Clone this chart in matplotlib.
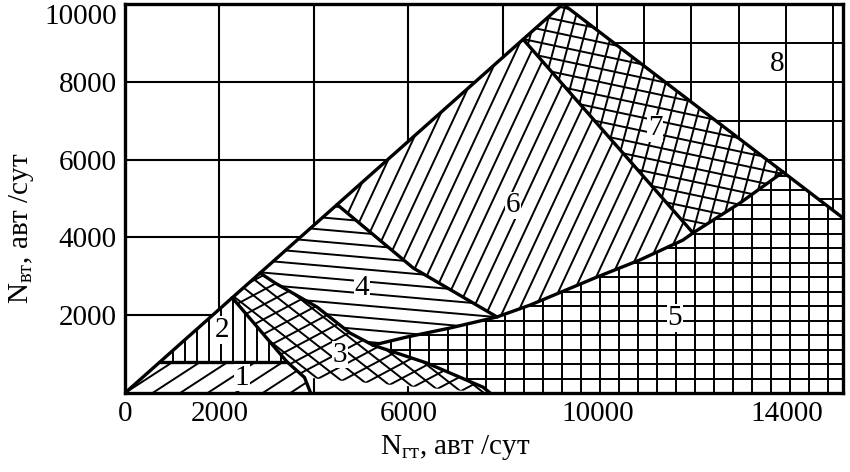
import numpy as np
import matplotlib
matplotlib.use('Agg')
import matplotlib.pyplot as plt
from matplotlib.patches import Polygon
from matplotlib.collections import LineCollection

plt.rcParams['font.family'] = ['Liberation Serif', 'DejaVu Serif']
plt.rcParams['mathtext.fontset'] = 'custom'
plt.rcParams['mathtext.rm'] = 'Liberation Serif'
plt.rcParams['mathtext.it'] = 'Liberation Serif:italic'

# boundary curves of the zones (N_gt, N_vt)
diag = [(0, 0), (740, 800), (2270, 2450), (2860, 3085), (4490, 4845), (8430, 9090), (9270, 10000)]
edge_12_3 = [(2270, 2450), (3430, 800), (3800, 400), (3930, 0)]
edge_3_4 = [(2860, 3085), (3175, 2830), (4065, 2210), (4765, 1540), (5250, 1230)]
edge_3_5 = [(5250, 1230), (6390, 770), (7580, 150), (7730, 0)]
edge_5_top = [(5250, 1230), (5970, 1440), (6880, 1670), (7875, 1955), (8575, 2260), (9990, 2980),
              (10900, 3420), (11810, 3930), (12025, 4115), (13020, 4885), (13930, 5680)]
edge_4_6 = [(4490, 4845), (6100, 3215), (7875, 1955)]
edge_6_7 = [(8430, 9090), (12025, 4115)]
edge_7_8 = [(9270, 10000), (13930, 5680), (15200, 4500)]
edge_1_2 = [(740, 800), (3430, 800)]

zone_names = ['1', '2', '3', '4', '5', '6', '7', '8']
zone_label_x = [2480, 2050, 4550, 5020, 11640, 8210, 11220, 13800]
zone_label_y = [390, 1620, 980, 2700, 1930, 4830, 6810, 8460]

x_ticks = [0, 2000, 4000, 6000, 8000, 10000, 12000, 14000]
x_labels = ['0', '2000', '', '6000', '', '10000', '', '14000']
y_ticks = [0, 2000, 4000, 6000, 8000, 10000]
y_labels = ['', '2000', '4000', '6000', '8000', '10000']


def rev(seq):
    return list(seq)[::-1]


zones = {
    '1': [(0, 0), (740, 800), (3430, 800), (3800, 400), (3930, 0)],
    '2': [(740, 800), (2270, 2450), (3430, 800)],
    '3': [(2270, 2450), (2860, 3085)] + edge_3_4[1:] + edge_3_5[1:] + rev(edge_12_3)[1:-1],
    '4': [(2860, 3085), (4490, 4845)] + edge_4_6[1:] + rev(edge_5_top[:4])[1:] + rev(edge_3_4)[1:-1],
    '5': edge_5_top + [(15200, 4500), (15200, 0)] + rev(edge_3_5)[:-1],
    '6': [(4490, 4845), (8430, 9090), (12025, 4115)] + rev(edge_5_top[3:9])[1:] + rev(edge_4_6)[1:-1],
    '7': [(8430, 9090), (9270, 10000), (13930, 5680)] + rev(edge_5_top[8:])[1:],
    '8': [(9270, 10000), (15200, 10000), (15200, 4500), (13930, 5680)],
}

# hatch style per zone: (angle in degrees on screen, spacing in pixels)
hatches = {
    '1': [(33, 15)],
    '2': [(90, 12)],
    '3': [(-38, 13), (28, 13)],
    '4': [(-5, 12)],
    '5': [(0, 14.5), (90, 19)],
    '6': [(65, 14)],
    '7': [(-12, 13), (75, 13)],
    '8': [(0, 38.9), (90, 47.2)],
}

fig = plt.figure(figsize=(8.5, 4.72), dpi=100)
ax = fig.add_axes([125 / 850, 79 / 472, 718 / 850, 389 / 472])
ax.set_xlim(0, 15200)
ax.set_ylim(0, 10000)

ax.set_xticks(x_ticks)
ax.set_xticklabels(x_labels)
ax.set_yticks(y_ticks)
ax.set_yticklabels(y_labels)
ax.tick_params(length=0, labelsize=21, pad=6)
ax.get_yticklabels()[-1].set_va('top')
ax.set_axisbelow(True)
ax.grid(True, color='black', linewidth=1.5)
for s in ax.spines.values():
    s.set_linewidth(2.4)


def draw_hatch(poly, styles):
    patch = Polygon(poly, closed=True, facecolor='white', edgecolor='none', zorder=2)
    ax.add_patch(patch)
    tr = ax.transData
    pts = tr.transform(np.array(poly, dtype=float))
    o = tr.transform((0, 0))
    lo, hi = pts.min(0), pts.max(0)
    center = (lo + hi) / 2
    half = np.hypot(*(hi - lo)) / 2 + 5
    corners = np.array([lo, hi, [lo[0], hi[1]], [hi[0], lo[1]]])
    inv = tr.inverted()
    for ang, sp in styles:
        t = np.radians(ang)
        d = np.array([np.cos(t), np.sin(t)])
        n = np.array([-np.sin(t), np.cos(t)])
        proj = (corners - o) @ n
        segs = []
        for c in np.arange(np.floor(proj.min() / sp) * sp, proj.max() + sp, sp):
            p = o + n * c
            s = (center - p) @ d
            seg = np.array([p + d * (s - half), p + d * (s + half)])
            segs.append(inv.transform(seg))
        lc = LineCollection(segs, colors='black', linewidths=1.4, zorder=3)
        lc.set_clip_path(patch)
        ax.add_collection(lc)


for name in zone_names:
    draw_hatch(zones[name], hatches[name])

for edge in [[diag[0], diag[-1]], edge_12_3, edge_3_4, edge_3_5, edge_5_top,
             edge_4_6, edge_6_7, edge_7_8, edge_1_2]:
    xs, ys = zip(*edge)
    ax.plot(xs, ys, color='black', linewidth=2.4, zorder=4, solid_capstyle='round')

for name, lx, ly in zip(zone_names, zone_label_x, zone_label_y):
    ax.text(lx, ly, name, fontsize=21, ha='center', va='center', zorder=5,
            bbox=dict(facecolor='white', edgecolor='none', pad=0.5))

fig.text(455 / 850, 1 - 448 / 472, r'$\mathrm{N}_{\mathrm{гт}}$, авт /сут', fontsize=21,
         ha='center', va='center')
fig.text(22 / 850, 1 - 228 / 472, r'$\mathrm{N}_{\mathrm{вт}}$, авт /сут', fontsize=21,
         ha='center', va='center', rotation=90)

fig.savefig('out.png', dpi=100)
